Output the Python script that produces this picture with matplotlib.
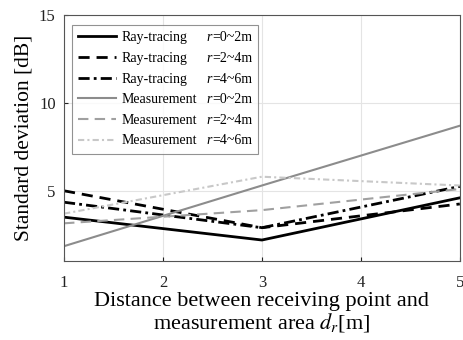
import matplotlib
matplotlib.use("Agg")
import matplotlib.pyplot as plt
from matplotlib.lines import Line2D

plt.rcParams['font.family'] = ['Liberation Serif', 'DejaVu Serif']
plt.rcParams['mathtext.fontset'] = 'stix'

# distance d_r [m]
dist = [1, 3, 5]

# standard deviation [dB]
ray_0_2 = [3.5, 2.2, 4.6]
ray_2_4 = [5.0, 2.9, 4.25]
ray_4_6 = [4.35, 2.9, 5.25]
meas_0_2 = [1.85, 5.3, 8.7]
meas_2_4 = [3.15, 3.9, 5.1]
meas_4_6 = [3.7, 5.8, 5.3]

methods = ['Ray-tracing'] * 3 + ['Measurement'] * 3
ranges = ['=0~2m', '=2~4m', '=4~6m'] * 2

fig = plt.figure(figsize=(4.64, 3.40), dpi=100)
ax = fig.add_axes([0.138, 0.232, 0.853, 0.724])

series = [ray_0_2, ray_2_4, ray_4_6, meas_0_2, meas_2_4, meas_4_6]
styles = [
    dict(color='black', linestyle='-', linewidth=2.0),
    dict(color='black', linestyle=(0, (4, 2.5)), linewidth=2.0),
    dict(color='black', linestyle=(0, (4, 1.5, 1, 1.5)), linewidth=2.0),
    dict(color='#8c8c8c', linestyle='-', linewidth=1.5),
    dict(color='#a0a0a0', linestyle=(0, (5, 3)), linewidth=1.5),
    dict(color='#c8c8c8', linestyle=(0, (3, 1.5, 1, 1.5)), linewidth=1.5),
]

handles = []
for vals, st in zip(series, styles):
    h, = ax.plot(dist, vals, **st)
    handles.append(h)

ax.set_xlim(1, 5)
ax.set_ylim(1, 15)
ax.set_xticks([1, 2, 3, 4, 5])
ax.set_yticks([5, 10, 15])
ax.grid(True, color='#e4e4e4', linewidth=0.8)
ax.tick_params(direction='in', length=3, labelsize=12, colors='#222222')
ax.tick_params(axis='x', pad=10)
ax.tick_params(axis='y', pad=6)
for sp in ax.spines.values():
    sp.set_color('#555555')
    sp.set_linewidth(0.8)

ax.set_xlabel('Distance between receiving point and\nmeasurement area $d_r$[m]',
              fontsize=16, linespacing=0.95, labelpad=1)
ax.set_ylabel('Standard deviation [dB]', fontsize=15.5, labelpad=4)

blank = [Line2D([], [], linestyle='none') for _ in ranges]
leg = ax.legend(handles + blank, methods + ranges, ncol=2,
                loc='upper left', bbox_to_anchor=(0.02, 0.959),
                fontsize=10, handlelength=2.7, handletextpad=0.4,
                columnspacing=-2.0, labelspacing=0.55,
                frameon=True, fancybox=False, edgecolor='#777777',
                borderpad=0.45, borderaxespad=0)
leg.get_frame().set_linewidth(0.8)

# italic r in front of each range label
for txt in leg.get_texts()[6:]:
    ax.annotate('r', xy=(0, 0), xycoords=txt, xytext=(-0.3, 0),
                textcoords='offset points', ha='right', va='bottom',
                fontsize=10, fontstyle='italic', zorder=10,
                annotation_clip=False)

fig.savefig('out.png', dpi=100)
